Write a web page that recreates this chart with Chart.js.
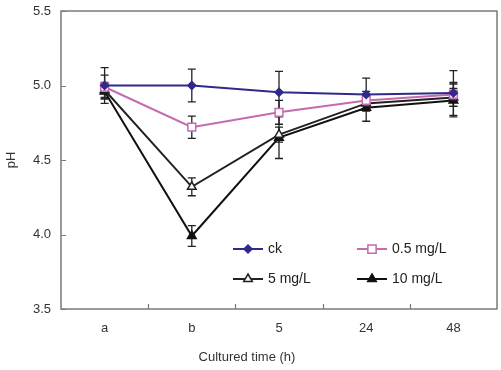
<!DOCTYPE html>
<html>
<head>
<meta charset="utf-8">
<script src="https://cdn.jsdelivr.net/npm/chart.js@4"></script>
<style>
  html, body { margin: 0; padding: 0; background: #fff; }
  #wrap { width: 501px; height: 370px; position: relative; }
</style>
</head>
<body>
<div id="wrap"><canvas id="phChart" width="501" height="370"></canvas></div>
<script>
// ---- data ----
const categories = ['a', 'b', '5', '24', '48'];
const ckValues = [5.00, 5.00, 4.955, 4.94, 4.95];
const ckErrors = [0.12, 0.11, 0.14, 0.11, 0.15];
const low05Values = [4.99, 4.72, 4.82, 4.90, 4.94];
const low05Errors = [0.08, 0.075, 0.08, 0.06, 0.08];
const mid5Values = [4.97, 4.32, 4.67, 4.88, 4.92];
const mid5Errors = [0.05, 0.06, 0.05, 0.05, 0.06];
const high10Values = [4.96, 3.99, 4.65, 4.85, 4.90];
const high10Errors = [0.05, 0.07, 0.14, 0.09, 0.11];
const yTicks = [3.5, 4.0, 4.5, 5.0, 5.5];

const FONT = '"Liberation Sans", Arial, sans-serif';
const AXIS_GRAY = '#7a7a7a';

// error bars, inward ticks, frame, axis titles and legend
const decorPlugin = {
    id: 'decor',
    beforeDatasetsDraw(chart) {
        const ctx = chart.ctx;
        const x = chart.scales.x;
        const y = chart.scales.y;
        ctx.save();
        ctx.strokeStyle = '#222';
        ctx.lineWidth = 1.3;
        chart.data.datasets.forEach(ds => {
            ds.data.forEach((v, i) => {
                const e = ds.errors[i];
                const px = x.getPixelForValue(i);
                const top = y.getPixelForValue(v + e);
                const bot = y.getPixelForValue(v - e);
                ctx.beginPath();
                ctx.moveTo(px, top); ctx.lineTo(px, bot);
                ctx.moveTo(px - 4, top); ctx.lineTo(px + 4, top);
                ctx.moveTo(px - 4, bot); ctx.lineTo(px + 4, bot);
                ctx.stroke();
            });
        });
        ctx.restore();
    },
    afterDraw(chart) {
        const ctx = chart.ctx;
        const a = chart.chartArea;
        const x = chart.scales.x;
        const y = chart.scales.y;
        ctx.save();
        ctx.strokeStyle = AXIS_GRAY;
        ctx.lineWidth = 1.5;
        ctx.strokeRect(a.left, a.top, a.right - a.left, a.bottom - a.top);

        // inward ticks
        ctx.lineWidth = 1.2;
        ctx.beginPath();
        yTicks.forEach(t => {
            const py = Math.round(y.getPixelForValue(t)) + 0.5;
            ctx.moveTo(a.left, py); ctx.lineTo(a.left + 5, py);
        });
        const step = x.getPixelForValue(1) - x.getPixelForValue(0);
        for (let i = 0; i < categories.length - 1; i++) {
            const px = Math.round(x.getPixelForValue(i) + step / 2) + 0.5;
            ctx.moveTo(px, a.bottom); ctx.lineTo(px, a.bottom - 5);
        }
        ctx.stroke();

        // axis titles
        ctx.fillStyle = '#333';
        ctx.font = '13px ' + FONT;
        ctx.textAlign = 'center';
        ctx.textBaseline = 'middle';
        ctx.fillText('Cultured time (h)', 247, 357);
        ctx.translate(11, 160);
        ctx.rotate(-Math.PI / 2);
        ctx.fillText('pH', 0, 0);
        ctx.restore();

        // legend
        const items = [
            { ds: 0, x: 233, y: 249 },
            { ds: 1, x: 357, y: 249 },
            { ds: 2, x: 233, y: 279 },
            { ds: 3, x: 357, y: 279 }
        ];
        ctx.save();
        items.forEach(it => {
            const ds = chart.data.datasets[it.ds];
            ctx.strokeStyle = ds.borderColor;
            ctx.lineWidth = 2;
            ctx.beginPath();
            ctx.moveTo(it.x, it.y); ctx.lineTo(it.x + 30, it.y);
            ctx.stroke();
            ctx.fillStyle = ds.pointBackgroundColor;
            ctx.lineWidth = ds.pointBorderWidth;
            ctx.beginPath();
            drawMarker(ctx, ds.pointStyle, it.x + 15, it.y, ds.pointRadius);
            ctx.fill();
            ctx.stroke();
            ctx.fillStyle = '#222';
            ctx.font = '14px ' + FONT;
            ctx.textAlign = 'left';
            ctx.textBaseline = 'middle';
            ctx.fillText(ds.label, it.x + 35, it.y);
        });
        ctx.restore();
    }
};

function drawMarker(ctx, style, cx, cy, r) {
    if (style === 'rect') {
        const s = r * 0.75;
        ctx.rect(cx - s, cy - s, 2 * s, 2 * s);
    } else if (style === 'rectRot') {
        ctx.moveTo(cx, cy - r); ctx.lineTo(cx + r, cy); ctx.lineTo(cx, cy + r); ctx.lineTo(cx - r, cy); ctx.closePath();
    } else {
        ctx.moveTo(cx, cy - r); ctx.lineTo(cx + r * 0.87, cy + r * 0.5); ctx.lineTo(cx - r * 0.87, cy + r * 0.5); ctx.closePath();
    }
}

function series(label, values, errors, color, fill, style, radius) {
    return {
        label: label,
        data: values,
        errors: errors,
        borderColor: color,
        backgroundColor: fill,
        pointBackgroundColor: fill,
        pointBorderColor: color,
        pointBorderWidth: 1.5,
        pointStyle: style,
        pointRadius: radius,
        borderWidth: 2,
        tension: 0
    };
}

new Chart(document.getElementById('phChart'), {
    type: 'line',
    data: {
        labels: categories,
        datasets: [
            series('ck', ckValues, ckErrors, '#2f2a8c', '#2f2a8c', 'rectRot', 4),
            series('0.5 mg/L', low05Values, low05Errors, '#c46bb0', '#ffffff', 'rect', 5.5),
            series('5 mg/L', mid5Values, mid5Errors, '#222222', '#ffffff', 'triangle', 5),
            series('10 mg/L', high10Values, high10Errors, '#111111', '#111111', 'triangle', 5)
        ]
    },
    options: {
        responsive: false,
        animation: false,
        layout: { autoPadding: false, padding: { left: 0, right: 4, top: 11, bottom: 0 } },
        plugins: { legend: { display: false }, tooltip: { enabled: false } },
        scales: {
            x: {
                offset: true,
                grid: { display: false },
                border: { display: false },
                ticks: { color: '#333', font: { family: FONT, size: 13 }, padding: 4 },
                afterFit: s => { s.height = 61; s.paddingLeft = 0; s.paddingRight = 0; }
            },
            y: {
                min: 3.5,
                max: 5.5,
                afterBuildTicks: s => { s.ticks = yTicks.map(v => ({ value: v })); },
                grid: { display: false },
                border: { display: false },
                ticks: {
                    color: '#333',
                    font: { family: FONT, size: 13 },
                    padding: 2,
                    callback: v => v.toFixed(1)
                },
                afterFit: s => { s.width = 61; }
            }
        }
    },
    plugins: [decorPlugin]
});
</script>
</body>
</html>
